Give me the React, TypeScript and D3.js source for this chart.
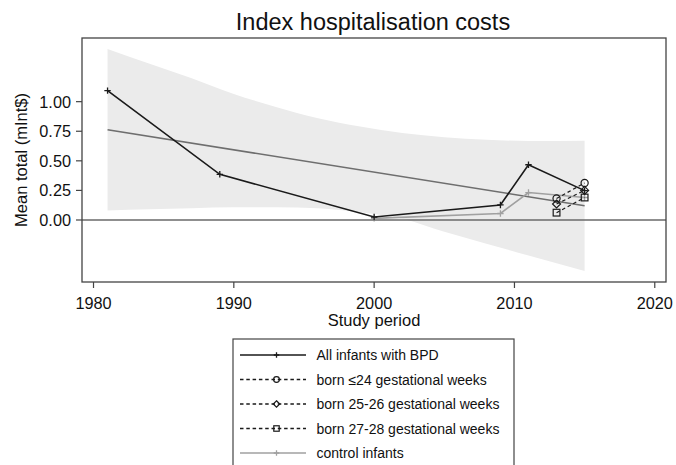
import React from "react";
import * as d3 from "d3";

const titleText = "Index hospitalisation costs";
const xLabel = "Study period";
const yLabel = "Mean total (mInt$)";

const xTicks = [1980, 1990, 2000, 2010, 2020];
const yTicks = [0, 0.25, 0.5, 0.75, 1.0];

const yearsAll = [1981, 1989, 2000, 2009, 2011, 2015];
const costAll = [1.093, 0.386, 0.025, 0.127, 0.467, 0.248];

const yearsSub = [2013, 2015];
const costLe24 = [0.182, 0.313];
const cost2526 = [0.135, 0.25];
const cost2728 = [0.062, 0.19];

const yearsCtrl = [2000, 2009, 2011, 2015];
const costCtrl = [0.014, 0.055, 0.232, 0.19];

const fitYears = [1981, 2015];
const fitVals = [0.763, 0.121];

const bandYears = [1981, 1984, 1987, 1990, 1993, 1996, 1999, 2002, 2005, 2008, 2011, 2015];
const bandUpper = [1.445, 1.32, 1.198, 1.065, 0.955, 0.86, 0.79, 0.735, 0.7, 0.678, 0.668, 0.67];
const bandLower = [0.08, 0.09, 0.1, 0.108, 0.108, 0.1, 0.065, 0.01, -0.1, -0.2, -0.3, -0.43];

const legendLabels = [
  "All infants with BPD",
  "born \u226424 gestational weeks",
  "born 25-26 gestational weeks",
  "born 27-28 gestational weeks",
  "control infants",
];

const W = 676;
const H = 465;
const FONT = "Arial, 'Liberation Sans', Helvetica, sans-serif";

type Marker = "plus" | "circle" | "diamond" | "square";

function MarkerShape({ type, x, y, color, s = 1 }: { type: Marker; x: number; y: number; color: string; s?: number }) {
  if (type === "plus") {
    const r = 3.2 * s;
    return <path d={`M${x - r},${y}H${x + r}M${x},${y - r}V${y + r}`} stroke={color} strokeWidth={1.3} fill="none" />;
  }
  if (type === "circle") {
    return <circle cx={x} cy={y} r={3.4 * s} stroke={color} strokeWidth={1.2} fill="none" />;
  }
  if (type === "diamond") {
    const r = 3.8 * s;
    return <path d={`M${x},${y - r}L${x + r},${y}L${x},${y + r}L${x - r},${y}Z`} stroke={color} strokeWidth={1.2} fill="none" />;
  }
  const r = 3.2 * s;
  return <rect x={x - r} y={y - r} width={2 * r} height={2 * r} stroke={color} strokeWidth={1.2} fill="none" />;
}

export default function App() {
  const left = 82, right = 666, top = 38, bottom = 282;
  const x = d3.scaleLinear().domain([1979.18, 2020.8]).range([left, right]);
  const y = d3.scaleLinear().domain([-0.524, 1.538]).range([bottom, top]);

  const line = d3
    .line<[number, number]>()
    .x((d) => x(d[0]))
    .y((d) => y(d[1]));

  const area = d3
    .area<number>()
    .x((_, i) => x(bandYears[i]))
    .y0((_, i) => y(bandLower[i]))
    .y1((_, i) => y(bandUpper[i]))
    .curve(d3.curveMonotoneX);

  const zip = (xs: number[], ys: number[]) => xs.map((v, i) => [v, ys[i]] as [number, number]);

  const allPts = zip(yearsAll, costAll);
  const ctrlPts = zip(yearsCtrl, costCtrl);
  const fitPts = zip(fitYears, fitVals);
  const subs: { vals: number[]; m: Marker }[] = [
    { vals: costLe24, m: "circle" },
    { vals: cost2526, m: "diamond" },
    { vals: cost2728, m: "square" },
  ];

  const black = "#1a1a1a";
  const ctrlColor = "#a0a0a0";
  const fitColor = "#6e6e6e";

  const legend = [
    { label: legendLabels[0], color: black, dash: undefined, m: "plus" as Marker },
    { label: legendLabels[1], color: black, dash: "3.5,2.8", m: "circle" as Marker },
    { label: legendLabels[2], color: black, dash: "3.5,2.8", m: "diamond" as Marker },
    { label: legendLabels[3], color: black, dash: "3.5,2.8", m: "square" as Marker },
    { label: legendLabels[4], color: ctrlColor, dash: undefined, m: "plus" as Marker },
  ];

  return (
    <svg
      width={W}
      height={H}
      style={{ position: "absolute", left: 0, top: 0, background: "#fff" }}
      fontFamily={FONT}
    >
      <rect x={0} y={0} width={W} height={H} fill="#fff" />
      <text x={373} y={30} textAnchor="middle" fontSize={23.5} fill="#111">
        {titleText}
      </text>

      {/* band */}
      <path d={area(bandYears) || ""} fill="#ebebeb" stroke="none" />

      {/* zero line */}
      <line x1={left} x2={right} y1={y(0)} y2={y(0)} stroke="#6a6a6a" strokeWidth={1.6} />

      {/* fit line */}
      <path d={line(fitPts) || ""} stroke={fitColor} strokeWidth={1.6} fill="none" />

      {/* control */}
      <path d={line(ctrlPts) || ""} stroke={ctrlColor} strokeWidth={1.6} fill="none" />
      {ctrlPts.map((p, i) => (
        <MarkerShape key={"c" + i} type="plus" x={x(p[0])} y={y(p[1])} color={ctrlColor} />
      ))}

      {/* all infants */}
      <path d={line(allPts) || ""} stroke={black} strokeWidth={1.6} fill="none" />
      {allPts.map((p, i) => (
        <MarkerShape key={"a" + i} type="plus" x={x(p[0])} y={y(p[1])} color={black} />
      ))}

      {/* subgroups */}
      {subs.map((s, k) => {
        const pts = zip(yearsSub, s.vals);
        return (
          <g key={"s" + k}>
            <path d={line(pts) || ""} stroke={black} strokeWidth={1.2} strokeDasharray="3.5,2.8" fill="none" />
            {pts.map((p, i) => (
              <MarkerShape key={i} type={s.m} x={x(p[0])} y={y(p[1])} color={black} s={1.05} />
            ))}
          </g>
        );
      })}

      {/* frame */}
      <rect x={left} y={top} width={right - left} height={bottom - top} fill="none" stroke="#444" strokeWidth={1.3} />

      {/* y axis ticks */}
      {yTicks.map((t) => (
        <g key={"y" + t}>
          <line x1={left - 6} x2={left} y1={y(t)} y2={y(t)} stroke="#444" strokeWidth={1.2} />
          <text x={left - 11} y={y(t)} dy="0.36em" textAnchor="end" fontSize={16.3} fill="#111">
            {d3.format(".2f")(t)}
          </text>
        </g>
      ))}

      {/* x axis ticks */}
      {xTicks.map((t) => (
        <g key={"x" + t}>
          <line x1={x(t)} x2={x(t)} y1={bottom} y2={bottom + 6} stroke="#444" strokeWidth={1.2} />
          <text x={x(t)} y={308.5} textAnchor="middle" fontSize={16.3} fill="#111">
            {t}
          </text>
        </g>
      ))}

      <text x={(left + right) / 2} y={326} textAnchor="middle" fontSize={16.5} fill="#111">
        {xLabel}
      </text>
      <text
        transform={`translate(${27},${(top + bottom) / 2}) rotate(-90)`}
        textAnchor="middle"
        fontSize={16.5}
        fill="#111"
      >
        {yLabel}
      </text>

      {/* legend */}
      <rect x={233} y={339} width={281} height={140} fill="#fff" stroke="#444" strokeWidth={1.2} />
      {legend.map((l, i) => {
        const cy = 355 + i * 24.5;
        return (
          <g key={"l" + i}>
            <line
              x1={240}
              x2={306}
              y1={cy}
              y2={cy}
              stroke={l.color}
              strokeWidth={l.dash ? 1.3 : 1.4}
              strokeDasharray={l.dash}
            />
            <MarkerShape type={l.m} x={276.5} y={cy} color={l.color} s={0.85} />
            <text x={316.5} y={cy} dy="0.36em" fontSize={14} fill="#111">
              {l.label}
            </text>
          </g>
        );
      })}
    </svg>
  );
}
